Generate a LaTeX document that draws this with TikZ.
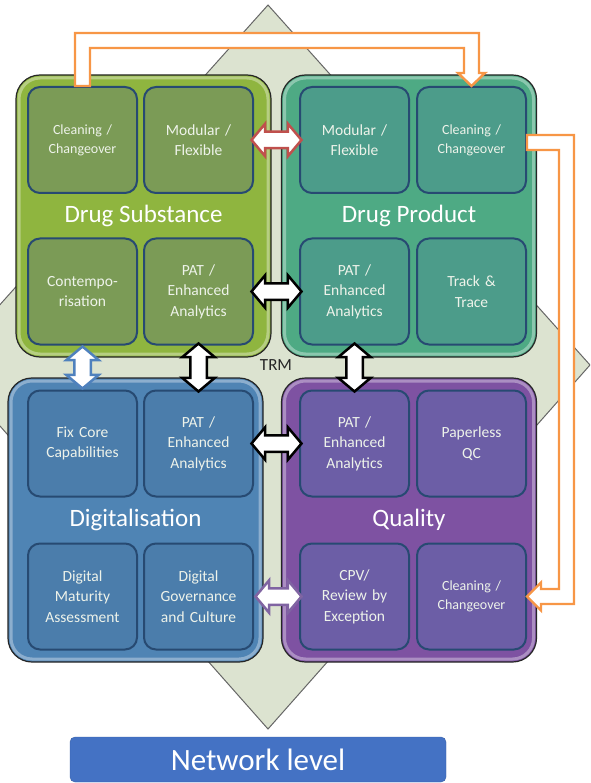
\documentclass[tikz,border=0pt]{standalone}
\usepackage{fontspec}
\setmainfont{Carlito}
\usetikzlibrary{shapes.arrows,calc}

\definecolor{diamondfill}{HTML}{DCE3D0}
\definecolor{dsfill}{HTML}{8FB53F}
\definecolor{dscell}{HTML}{7B9B56}
\definecolor{dpfill}{HTML}{4EAA84}
\definecolor{dpcell}{HTML}{4C9C8A}
\definecolor{difill}{HTML}{4F84B4}
\definecolor{dicell}{HTML}{4B7DAB}
\definecolor{qfill}{HTML}{7E52A2}
\definecolor{qcell}{HTML}{6C5EA6}
\definecolor{cellborder}{HTML}{274A72}
\definecolor{celltext}{HTML}{EEF3EA}
\definecolor{pipeorange}{HTML}{F79646}
\definecolor{arrowred}{HTML}{C0504D}
\definecolor{arrowblue}{HTML}{4F81BD}
\definecolor{arrowpurple}{HTML}{8064A2}
\definecolor{netblue}{HTML}{4472C4}

\begin{document}
\begin{tikzpicture}[x=1pt,y=-1pt]
    \tikzstyle{bigbox}=[rectangle, rounded corners=24pt, draw=black!85, line width=1.2pt,
        minimum width=255pt, minimum height=282pt, text=white, font=\fontsize{25}{30}\selectfont,
        path picture={\draw[white, opacity=.35, line width=3pt, rounded corners=21pt]
            ([shift={(3pt,-3pt)}]path picture bounding box.north west) rectangle
            ([shift={(-3pt,3pt)}]path picture bounding box.south east);}]
    \tikzstyle{cell}=[rectangle, rounded corners=12pt, draw=cellborder, line width=2pt,
        minimum width=109pt, minimum height=106pt, text width=100pt, align=center,
        text=celltext, font=\fontsize{15.5}{20.5}\selectfont]
    \tikzstyle{small}=[font=\fontsize{14}{19}\selectfont]
    \tikzstyle{dbl}=[double arrow, fill=white, line width=2.5pt, inner xsep=0pt, inner ysep=7pt,
        minimum width=30pt, minimum height=50pt, double arrow head extend=8pt, double arrow tip angle=100]
    \tikzstyle{pipe}=[draw=pipeorange, fill=white, line width=2.4pt, line join=miter]

    \useasboundingbox (0,0) rectangle (590,783);
    \clip (0,0) rectangle (590,783);

    % background diamond
    \draw[fill=diamondfill, draw=black!60, line width=1pt] (268,5) -- (590,365) -- (268,729) -- (-54,365) -- cycle;
    \node[font=\fontsize{17}{20}\selectfont, text=black!85] (trm) at (276,365) {TRM};

    % the four areas
    \node[bigbox, fill=dsfill] (ds) at (143.5,216) {Drug Substance};
    \node[bigbox, fill=dpfill] (dp) at (409,216) {Drug Product};
    \node[bigbox, fill=difill, minimum height=284pt] (di) at (135.5,520) {Digitalisation};
    \node[bigbox, fill=qfill, minimum height=284pt] (q) at (409,520) {Quality};

    % Drug Substance
    \node[cell, small, fill=dscell] (dsclean) at (82.5,140) {Cleaning /\\Changeover};
    \node[cell, fill=dscell] (dsmod) at (198.5,140) {Modular /\\Flexible};
    \node[cell, fill=dscell] (dscon) at (82.5,291.5) {Contempo-\\risation};
    \node[cell, fill=dscell] (dspat) at (198.5,291.5) {PAT /\\Enhanced\\Analytics};

    % Drug Product
    \node[cell, fill=dpcell] (dpmod) at (354.5,140) {Modular /\\Flexible};
    \node[cell, small, fill=dpcell] (dpclean) at (471.5,140) {Cleaning /\\Changeover};
    \node[cell, fill=dpcell] (dppat) at (354.5,291.5) {PAT /\\Enhanced\\Analytics};
    \node[cell, fill=dpcell] (dptrack) at (471.5,291.5) {Track \&\\Trace};

    % Digitalisation
    \node[cell, fill=dicell] (dicore) at (82.5,443.5) {Fix Core\\Capabilities};
    \node[cell, fill=dicell] (dipat) at (198.5,443.5) {PAT /\\Enhanced\\Analytics};
    \node[cell, fill=dicell] (dimat) at (82.5,596.5) {Digital\\Maturity\\Assessment};
    \node[cell, fill=dicell] (digov) at (198.5,596.5) {Digital\\Governance\\and Culture};

    % Quality
    \node[cell, fill=qcell] (qpat) at (354.5,443.5) {PAT /\\Enhanced\\Analytics};
    \node[cell, fill=qcell] (qqc) at (471.5,443.5) {Paperless\\QC};
    \node[cell, fill=qcell] (qcpv) at (354.5,596.5) {CPV/\\Review by\\Exception};
    \node[cell, small, fill=qcell] (qclean) at (471.5,596.5) {Cleaning /\\Changeover};

    % links between the areas
    \node[dbl, draw=arrowred] (modlink) at ($(dsmod.east)!.5!(dpmod.west)$) {};
    \node[dbl, draw=black] (patlink1) at ($(dspat.east)!.5!(dppat.west)$) {};
    \node[dbl, draw=black] (patlink2) at ($(dipat.east)!.5!(qpat.west)$) {};
    \node[dbl, draw=arrowpurple, minimum height=46pt] (govlink) at ($(digov.east)!.5!(qcpv.west)+(2,0)$) {};
    \node[dbl, draw=arrowblue, rotate=90, minimum height=42pt] (conlink) at ($(dscon.south)!.5!(dicore.north)$) {};
    \node[dbl, draw=black, rotate=90, minimum height=48pt] (patlink3) at ($(dspat.south)!.5!(dipat.north)$) {};
    \node[dbl, draw=black, rotate=90, minimum height=48pt] (patlink4) at ($(dppat.south)!.5!(qpat.north)$) {};

    % cleaning / changeover chain
    \draw[pipe] ($(dsclean.north)+(-7.5,0)$) -- ++(0,-53) -| ($(dpclean.north)+(7.5,-13)$) -- ++(6,0)
        -- (dpclean.north) -- ++(-13.5,-13) -- ++(6,0) |- ($(dsclean.north)+(7.5,-38)$)
        -- ($(dsclean.north)+(7.5,0)$) -- cycle;
    \draw[pipe] ($(dpclean.east)+(0,-5)$) -- ++(47,0) |- ($(qclean.east)+(14,7.5)$) -- ++(0,6.5)
        -- (qclean.east) -- ++(14,-14) -- ++(0,6.5) -| ($(dpclean.east)+(32,10)$)
        -- ($(dpclean.east)+(0,10)$) -- cycle;

    % level bar
    \node[fill=netblue, draw=netblue!85!black, rounded corners=5pt, minimum width=376pt, minimum height=45pt,
        text=white, font=\fontsize{31}{36}\selectfont] (net) at (258,759.5) {Network level};
\end{tikzpicture}
\end{document}
